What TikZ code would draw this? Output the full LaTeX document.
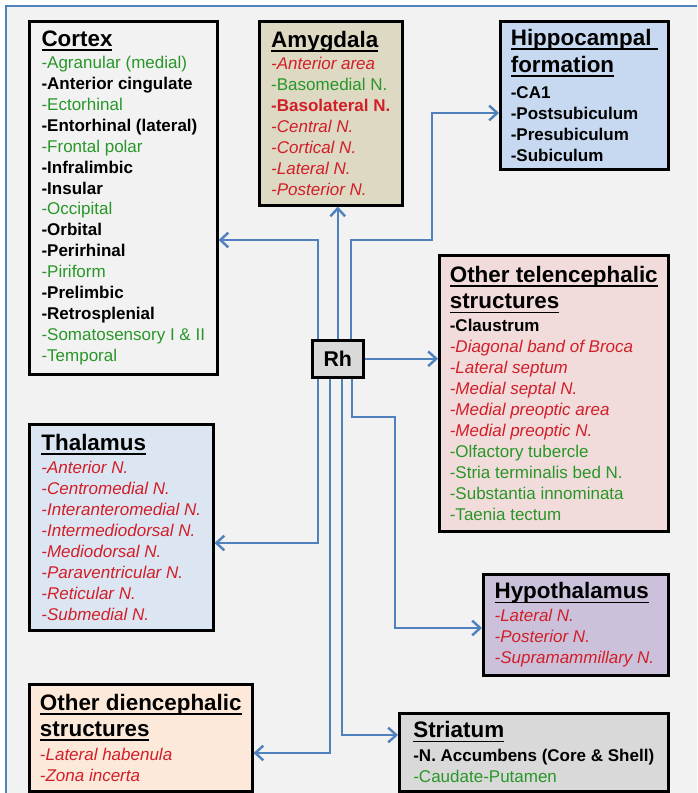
\documentclass[tikz,border=0pt]{standalone}
\usepackage{fontspec}
\setmainfont{Liberation Sans}
\usetikzlibrary{arrows.meta,positioning}

\definecolor{bggrey}{RGB}{242,242,242}
\definecolor{linkblue}{RGB}{79,129,189}
\definecolor{itemgreen}{RGB}{40,150,40}
\definecolor{itemred}{RGB}{210,30,40}
\definecolor{amyfill}{RGB}{221,217,195}
\definecolor{hippofill}{RGB}{198,217,241}
\definecolor{telefill}{RGB}{242,220,219}
\definecolor{thalfill}{RGB}{220,230,242}
\definecolor{hypofill}{RGB}{204,193,218}
\definecolor{dienfill}{RGB}{253,233,217}
\definecolor{grayfill}{RGB}{217,217,217}

% underlined box title, rule at a fixed depth
\newcommand{\hd}[1]{{\fontsize{16.8}{20}\selectfont\bfseries\setbox0\hbox{#1}\rlap{\rule[-3.3pt]{\wd0}{1.2pt}}\box0}}
\newcommand{\gitem}[1]{\textcolor{itemgreen}{#1}}
\newcommand{\ritem}[1]{\textcolor{itemred}{\itshape #1}}
\newcommand{\bitem}[1]{\textbf{#1}}
\newcommand{\rbitem}[1]{\textcolor{itemred}{\bfseries #1}}

\tikzset{
  region/.style={rectangle, draw=black, line width=1.9pt, align=left, inner sep=0pt,
    font=\fontsize{12.75}{15.7}\selectfont},
  link/.style={draw=linkblue, line width=1.8pt, -{Straight Barb[length=6pt,width=11pt]}}
}

\begin{document}
\begin{tikzpicture}[x=0.75pt, y=-0.75pt]
      \useasboundingbox (0,0) rectangle (697,793);
      \fill[white] (0,0) rectangle (697,793);
      \fill[bggrey] (6,6) rectangle (697,793);
      \draw[linkblue, line width=1.6pt] (6,793) -- (6,6) -- (697,6);

      \node (cortex) [region, fill=bggrey, minimum width=141pt, minimum height=264.75pt, below right] at (28,20)
        {\hd{Cortex}\\[1pt]
         \gitem{-Agranular (medial)}\\ \bitem{-Anterior cingulate}\\ \gitem{-Ectorhinal}\\
         \bitem{-Entorhinal (lateral)}\\ \gitem{-Frontal polar}\\ \bitem{-Infralimbic}\\
         \bitem{-Insular}\\ \gitem{-Occipital}\\ \bitem{-Orbital}\\ \bitem{-Perirhinal}\\
         \gitem{-Piriform}\\ \bitem{-Prelimbic}\\ \bitem{-Retrosplenial}\\
         \gitem{-Somatosensory I \& II}\\ \gitem{-Temporal}};

      \node (amygdala) [region, fill=amyfill, minimum width=107.25pt, minimum height=138pt, below right] at (258,20)
        {\hd{Amygdala}\\[1pt]
         \ritem{-Anterior area}\\ \gitem{-Basomedial N.}\\ \rbitem{-Basolateral N.}\\
         \ritem{-Central N.}\\ \ritem{-Cortical N.}\\ \ritem{-Lateral N.}\\ \ritem{-Posterior N.}};

      \node (hippo) [region, fill=hippofill, minimum width=126pt, minimum height=111pt, below right] at (499,20)
        {\hd{Hippocampal\ }\\[4.5pt] \hd{formation}\\[4pt]
         \bitem{-CA1}\\ \bitem{-Postsubiculum}\\ \bitem{-Presubiculum}\\ \bitem{-Subiculum}};

      \node (tele) [region, fill=telefill, minimum width=171.75pt, minimum height=207pt, below right] at (438,254)
        {\hd{Other telencephalic}\\[4pt] \hd{structures}\\[1.5pt]
         \bitem{-Claustrum}\\ \ritem{-Diagonal band of Broca}\\ \ritem{-Lateral septum}\\
         \ritem{-Medial septal N.}\\ \ritem{-Medial preoptic area}\\ \ritem{-Medial preoptic N.}\\
         \gitem{-Olfactory tubercle}\\ \gitem{-Stria terminalis bed N.}\\
         \gitem{-Substantia innominata}\\ \gitem{-Taenia tectum}};

      \node (rh) [region, fill=grayfill, minimum width=38.25pt, minimum height=27.75pt, below right,
        font=\fontsize{16}{18}\selectfont\bfseries] at (311,339) {Rh};

      \node (thal) [region, fill=thalfill, minimum width=138pt, minimum height=154.5pt, below right] at (28,423)
        {\hd{Thalamus}\\[1.5pt]
         \ritem{-Anterior N.}\\ \ritem{-Centromedial N.}\\ \ritem{-Interanteromedial N.}\\
         \ritem{-Intermediodorsal N.}\\ \ritem{-Mediodorsal N.}\\ \ritem{-Paraventricular N.}\\
         \ritem{-Reticular N.}\\ \ritem{-Submedial N.}};

      \node (hypo) [region, fill=hypofill, minimum width=138.75pt, minimum height=75.75pt, below right] at (482,573)
        {\hd{Hypothalamus}\rule{6pt}{0pt}\\[1.5pt]
         \ritem{-Lateral N.}\\ \ritem{-Posterior N.}\\ \ritem{-Supramammillary N.}};

      \node (dien) [region, fill=dienfill, minimum width=167.25pt, minimum height=80.25pt, below right] at (28,683)
        {\hd{Other diencephalic}\\[4pt] \hd{structures}\\[2pt]
         \ritem{-Lateral habenula}\\ \ritem{-Zona incerta}};

      \node (stri) [region, fill=grayfill, minimum width=201.75pt, minimum height=58.5pt, below right] at (398,712)
        {\hd{Striatum}\\[2.5pt]
         \bitem{-N. Accumbens (Core \& Shell)}\\ \gitem{-Caudate-Putamen}};

      % projections out of Rh
      \draw[link] (rh.north -| 318,0) |- (cortex.east |- 0,240);
      \draw[link] (rh.north) -- (rh.north |- amygdala.south);
      \draw[link] (rh.north -| 351,0) |- (432,240) |- (hippo.west |- 0,113);
      \draw[link] (rh.east) -- (rh.east -| tele.west);
      \draw[link] (rh.south -| 318,0) |- (thal.east |- 0,543);
      \draw[link] (rh.south -| 330,0) |- (dien.east |- 0,753);
      \draw[link] (rh.south -| 342,0) |- (stri.west |- 0,735);
      \draw[link] (rh.south -| 352,0) |- (395,417) |- (hypo.west |- 0,628);

    \end{tikzpicture}
\end{document}
